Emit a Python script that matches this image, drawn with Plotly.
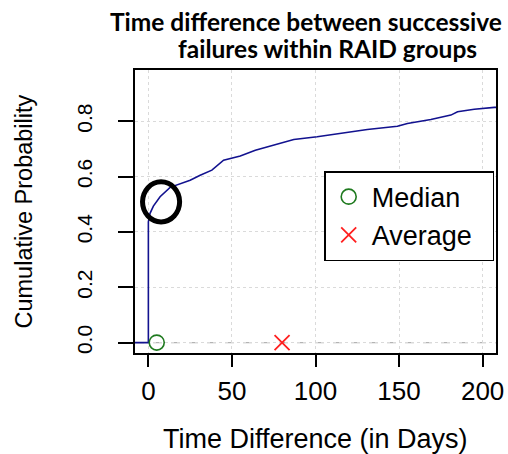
import plotly.graph_objects as go

# Empirical CDF of the gap (days) between successive failures in a RAID group
gap_days = [-8, 0, 0, 1, 3, 7, 13, 19, 25, 31, 38, 45, 55, 64, 75, 87, 101,
            115, 131, 149, 155, 169, 181, 185, 195, 207, 215]
cum_prob = [0.0, 0.0, 0.436, 0.467, 0.493, 0.527, 0.561, 0.575, 0.587, 0.605,
            0.623, 0.659, 0.674, 0.695, 0.714, 0.734, 0.744, 0.756, 0.770,
            0.782, 0.792, 0.806, 0.822, 0.834, 0.843, 0.85, 0.85]

median_gap = 5
average_gap = 80

x_ticks = [0, 50, 100, 150, 200]
y_ticks = [0.0, 0.2, 0.4, 0.6, 0.8]
y_tick_text = ["0.0", "0.2", "0.4", "0.6", "0.8"]

FONT = "Liberation Sans, Arial, sans-serif"

fig = go.Figure()

fig.add_trace(go.Scatter(
    x=gap_days, y=cum_prob, mode="lines",
    line=dict(color="#12128f", width=1.6), showlegend=False, hoverinfo="skip",
))
fig.add_trace(go.Scatter(
    x=[median_gap], y=[0], mode="markers", name="Median",
    marker=dict(symbol="circle-open", size=15, color="#1f7a1f",
                line=dict(width=1.6, color="#1f7a1f")),
))
fig.add_trace(go.Scatter(
    x=[average_gap], y=[0], mode="markers", name="Average\u00a0\u00a0",
    marker=dict(symbol="x-thin-open", size=15, color="#ff2020",
                line=dict(width=1.8, color="#ff2020")),
))

# dashed reference line at probability 0
fig.add_shape(type="line", xref="paper", yref="y", x0=0, x1=1, y0=0, y1=0,
              line=dict(color="#b3b3b3", width=1.2, dash="dash"), layer="below")

# highlight around the initial jump
fig.add_shape(type="circle", xref="x", yref="y", x0=-3.5, x1=18.7,
              y0=0.436, y1=0.581, line=dict(color="black", width=5))

axis_common = dict(
    showline=True, linecolor="black", linewidth=1.5, mirror=True,
    ticks="outside", tickcolor="black", tickwidth=1.5,
    showgrid=True, gridcolor="#dadada", gridwidth=1, griddash="dot",
    zeroline=False, tickfont=dict(family=FONT, size=26, color="black"),
)

fig.update_xaxes(**axis_common, range=[-8, 208], tickvals=x_ticks,
                 ticklen=12, ticklabelstandoff=2)
fig.update_yaxes(**axis_common, range=[-0.0376, 0.985], tickvals=y_ticks,
                 ticktext=y_tick_text, ticklen=15, tickangle=-90,
                 ticklabelstandoff=18)
fig.update_yaxes(tickfont=dict(family=FONT, size=21, color="black"))

annotations = [
    dict(text="<b>Time difference between successive</b>", xref="paper", yref="paper",
         x=0.4745, y=1, yshift=49, showarrow=False, xanchor="center", yanchor="middle",
         font=dict(family="Lato, sans-serif", size=24.5, color="black")),
    dict(text="<b>failures within RAID groups</b>", xref="paper", yref="paper",
         x=0.5327, y=1, yshift=22, showarrow=False, xanchor="center", yanchor="middle",
         font=dict(family="Lato, sans-serif", size=24.5, color="black")),
    dict(text="Time Difference (in Days)", xref="paper", yref="paper",
         x=0.5, y=0, yshift=-86, showarrow=False, xanchor="center", yanchor="middle",
         font=dict(family=FONT, size=27, color="black")),
    dict(text="Cumulative Probability", xref="paper", yref="paper",
         x=0, y=0.5, xshift=-112, showarrow=False, xanchor="center", yanchor="middle",
         textangle=-90, font=dict(family=FONT, size=23.5, color="black")),
]

fig.update_layout(
    width=508, height=454,
    margin=dict(l=135, r=12, t=70, b=101, autoexpand=False),
    paper_bgcolor="white", plot_bgcolor="white",
    annotations=annotations,
    legend=dict(x=0.995, y=0.6427, xanchor="right", yanchor="top",
                bgcolor="white", bordercolor="black", borderwidth=1.5,
                font=dict(family=FONT, size=27, color="black"),
                itemwidth=36, tracegroupgap=0),
    showlegend=True,
)

fig.write_html("out.html")
